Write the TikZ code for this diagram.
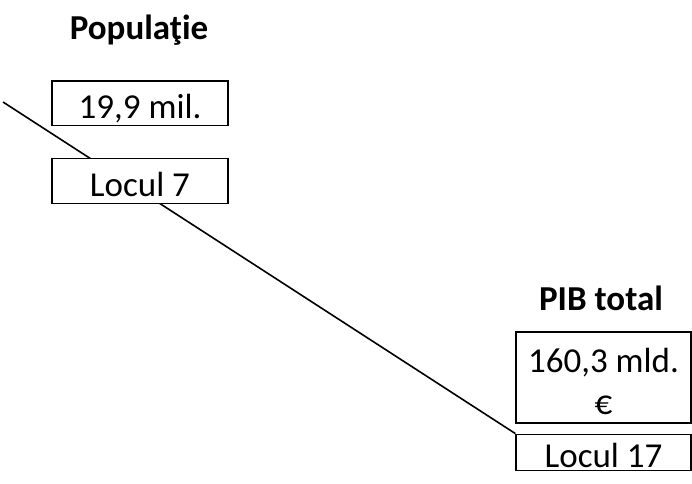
\documentclass[tikz,border=0pt]{standalone}
\usepackage{fontspec}
\setmainfont{Carlito}
\usetikzlibrary{positioning,backgrounds}

\begin{document}
\begin{tikzpicture}[x=1pt,y=-1pt,
    valbox/.style={draw,fill=white,line width=1.2pt,inner sep=0pt,minimum width=176pt,
        font=\fontsize{35}{41.5}\selectfont},
    onerow/.style={text height=31pt,text depth=0pt},
    heading/.style={anchor=base,font=\fontsize{35}{41.5}\selectfont\bfseries}]
    \useasboundingbox (0,0) rectangle (692,483);

    % populatie
    \node[heading] (poptitle) at (139,39) {Populaţie};
    \node[valbox,onerow,minimum height=44.5pt] (popval) at (140,103.3) {19,9 mil.};
    \node[valbox,onerow,minimum height=44.5pt] (poprank) [below=32pt of popval] {Locul 7};

    % pib
    \node[heading] (pibtitle) at (601,310) {PIB total};
    \node[valbox,minimum width=175pt,minimum height=91pt,align=center] (pibval) at (603.5,377.5) {\rule{0pt}{32pt}160,3 mld.\\€};
    \node[valbox,onerow,minimum width=175pt,minimum height=36pt] (pibrank) [below=10pt of pibval] {Locul 17};

    \coordinate (start) at (3,102);
    \begin{scope}[on background layer]
        \draw[line width=1.6pt] (start)--(pibrank.north west);
    \end{scope}
\end{tikzpicture}
\end{document}
